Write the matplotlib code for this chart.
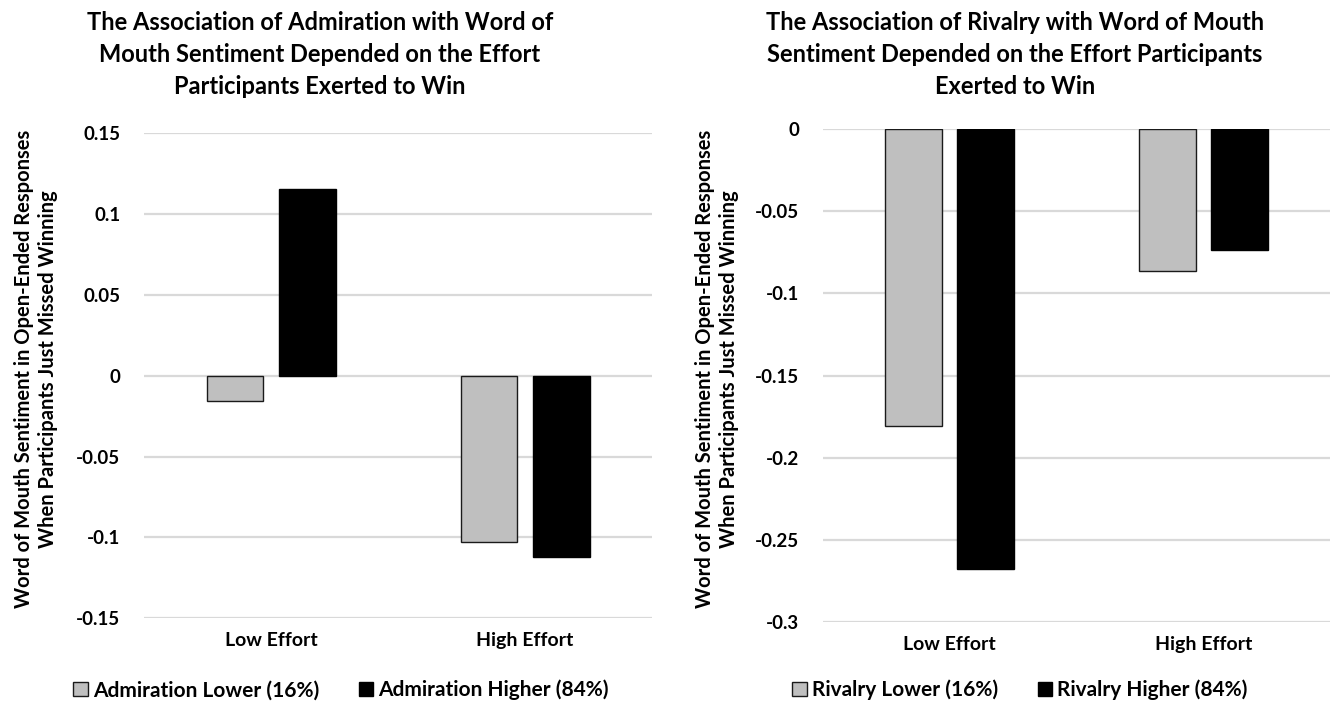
import matplotlib
matplotlib.use("Agg")
import matplotlib.pyplot as plt
from matplotlib.patches import Patch
import numpy as np

plt.rcParams['font.family'] = ['Lato', 'DejaVu Sans']

categories = ["Low Effort", "High Effort"]

admiration_lower = [-0.0154, -0.1029]
admiration_higher = [0.1154, -0.1120]

rivalry_lower = [-0.1805, -0.0864]
rivalry_higher = [-0.2676, -0.0736]

admiration_ticks = [-0.15, -0.1, -0.05, 0, 0.05, 0.1, 0.15]
admiration_tick_labels = ["-0.15", "-0.1", "-0.05", "0", "0.05", "0.1", "0.15"]
rivalry_ticks = [-0.3, -0.25, -0.2, -0.15, -0.1, -0.05, 0]
rivalry_tick_labels = ["-0.3", "-0.25", "-0.2", "-0.15", "-0.1", "-0.05", "0"]

titles = [
    "The Association of Admiration with Word of\nMouth Sentiment Depended on the Effort\nParticipants Exerted to Win",
    "The Association of Rivalry with Word of Mouth\nSentiment Depended on the Effort Participants\nExerted to Win",
]
ylabel = "Word of Mouth Sentiment in Open-Ended Responses\nWhen Participants Just Missed Winning"
legend_labels = [
    ("Admiration Lower (16%)", "Admiration Higher (84%)"),
    ("Rivalry Lower (16%)", "Rivalry Higher (84%)"),
]

GREY = "#BFBFBF"
BLACK = "#000000"
GRID = "#D9D9D9"

fig = plt.figure(figsize=(13.3, 7.04), dpi=100)

ax_l = fig.add_axes([0.1083, 0.1217, 0.382, 0.6889])
ax_r = fig.add_axes([0.6188, 0.1160, 0.3812, 0.7008])

panels = [
    (ax_l, admiration_lower, admiration_higher, (-0.15, 0.15), admiration_ticks, admiration_tick_labels),
    (ax_r, rivalry_lower, rivalry_higher, (-0.3, 0.0), rivalry_ticks, rivalry_tick_labels),
]

x = np.arange(len(categories))
width = 0.224
offset = 0.142

for ax, lower, higher, ylim, ticks, tlabels in panels:
    ax.bar(x - offset, lower, width, color=GREY, edgecolor="#1a1a1a", linewidth=1.0, zorder=3)
    ax.bar(x + offset, higher, width, color=BLACK, edgecolor=BLACK, linewidth=1.0, zorder=3)
    ax.set_xlim(-0.5, 1.5)
    ax.set_ylim(*ylim)
    ax.set_yticks(ticks)
    ax.set_yticklabels(tlabels, fontsize=13.5, fontweight="bold")
    ax.set_xticks(x)
    ax.set_xticklabels(categories, fontsize=14, fontweight="bold")
    ax.tick_params(axis="y", length=0, pad=17)
    ax.tick_params(axis="x", length=0, pad=10)
    for s in ax.spines.values():
        s.set_visible(False)
    ax.grid(axis="y", color=GRID, linewidth=1.6, zorder=0)
    ax.set_axisbelow(True)
    ax.patch.set_alpha(0)

# titles
fig.text(320 / 1330, 1 - 11 / 704, titles[0], ha="center", va="top", fontsize=17,
         fontweight="bold", linespacing=1.47)
fig.text(1015 / 1330, 1 - 11 / 704, titles[1], ha="center", va="top", fontsize=17,
         fontweight="bold", linespacing=1.47)

# y-axis labels
fig.text(36 / 1330, 1 - 369 / 704, ylabel, ha="center", va="center", rotation=90,
         fontsize=14.5, fontweight="bold", linespacing=1.2)
fig.text(717 / 1330, 1 - 369 / 704, ylabel, ha="center", va="center", rotation=90,
         fontsize=14.5, fontweight="bold", linespacing=1.2)

# legends
for cx, (lo, hi) in zip([341 / 1330, 1020 / 1330], legend_labels):
    handles = [Patch(facecolor=GREY, edgecolor="#1a1a1a", linewidth=1.0),
               Patch(facecolor=BLACK, edgecolor=BLACK, linewidth=1.0)]
    fig.legend(handles, [lo, hi], loc="center", bbox_to_anchor=(cx, 1 - 690 / 704),
               ncol=2, frameon=False, prop={"size": 15, "weight": "bold"},
               handlelength=0.7, handleheight=0.7, handletextpad=0.25, columnspacing=1.9)

fig.savefig("out.png", dpi=100)
